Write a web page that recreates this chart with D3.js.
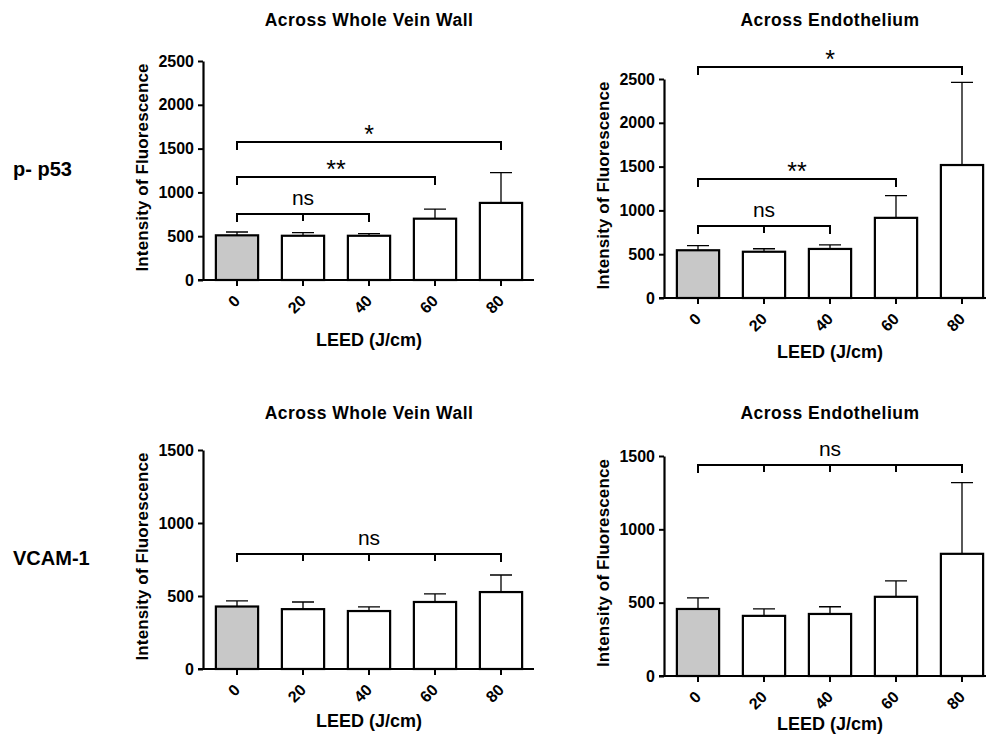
<!DOCTYPE html>
<html>
<head>
<meta charset="utf-8">
<script src="https://cdn.jsdelivr.net/npm/d3@7"></script>
<style>
  body { margin: 0; background: #fff; }
  text { font-family: "Liberation Sans", Arial, sans-serif; }
</style>
</head>
<body>
<div id="chart"></div>
<script>
// data
const doses = ["0", "20", "40", "60", "80"];

const p53WallMean = [510, 505, 505, 700, 880];
const p53WallErr  = [548, 540, 530, 810, 1225];
const p53EndoMean = [545, 528, 560, 915, 1518];
const p53EndoErr  = [597, 562, 607, 1168, 2462];
const vcamWallMean = [428, 410, 397, 459, 527];
const vcamWallErr  = [466, 459, 426, 514, 644];
const vcamEndoMean = [457, 410, 423, 540, 833];
const vcamEndoErr  = [533, 457, 472, 649, 1318];

const p53Ticks = [0, 500, 1000, 1500, 2000, 2500];
const vcamTicks = [0, 500, 1000, 1500];

// significance brackets: [from, to, level, label]
const p53WallSig = [["0", "40", 753, "ns"], ["0", "60", 1176, "**"], ["0", "80", 1575, "*"]];
const p53EndoSig = [["0", "40", 822, "ns"], ["0", "60", 1358, "**"], ["0", "80", 2637, "*"]];
const vcamWallSig = [["0", "80", 788, "ns"]];
const vcamEndoSig = [["0", "80", 1439, "ns"]];

const svg = d3.select("#chart").append("svg")
    .attr("width", 986)
    .attr("height", 735);

function drawPanel(p) {
    const g = svg.append("g");

    const y = d3.scaleLinear()
        .domain([0, d3.max(p.ticks)])
        .range([p.y0, p.yTop]);

    const x = d3.scaleBand()
        .domain(doses)
        .range([p.ax + 1, p.ax + 331])
        .paddingInner(0.36)
        .paddingOuter(0.18);

    const bars = doses.map((d, i) => ({ dose: d, mean: p.mean[i], err: p.err[i] }));

    // error bars (upper only)
    g.selectAll(".err").data(bars).enter().append("path")
        .attr("fill", "none")
        .attr("stroke", "#000")
        .attr("stroke-width", 1.3)
        .attr("d", d => {
            const cx = x(d.dose) + x.bandwidth() / 2;
            return `M${cx},${y(d.mean)}V${y(d.err)}M${cx - 11},${y(d.err)}H${cx + 11}`;
        });

    g.selectAll(".bar").data(bars).enter().append("rect")
        .attr("x", d => x(d.dose))
        .attr("y", d => y(d.mean))
        .attr("width", x.bandwidth())
        .attr("height", d => y(0) - y(d.mean))
        .attr("fill", (d, i) => i === 0 ? "#c8c8c8" : "#fff")
        .attr("stroke", "#000")
        .attr("stroke-width", 2.2);

    // y axis
    const yAxis = g.append("g")
        .attr("transform", `translate(${p.ax},0)`)
        .call(d3.axisLeft(y).tickValues(p.ticks).tickFormat(d3.format("d"))
            .tickSize(5).tickSizeOuter(0).tickPadding(4));
    yAxis.select(".domain").attr("stroke-width", 2.2);
    yAxis.selectAll(".tick line").attr("stroke-width", 2);
    yAxis.selectAll(".tick text")
        .style("font-size", "16px")
        .style("font-weight", "bold")
        .attr("fill", "#000");

    // x axis
    const xAxis = g.append("g")
        .attr("transform", `translate(0,${p.y0})`)
        .call(d3.axisBottom(x).tickSize(6).tickSizeOuter(0));
    xAxis.select(".domain").remove();
    xAxis.append("line")
        .attr("x1", p.ax - 5).attr("x2", p.ax + 331)
        .attr("stroke", "#000").attr("stroke-width", 2.2);
    xAxis.selectAll(".tick line").attr("stroke-width", 2);
    xAxis.selectAll(".tick text")
        .style("font-size", "16px")
        .style("font-weight", "bold")
        .attr("fill", "#000")
        .attr("text-anchor", "end")
        .attr("y", 0)
        .attr("dy", null)
        .attr("transform", "translate(4,22) rotate(-45)");

    // significance brackets
    p.sig.forEach(s => {
        const i0 = doses.indexOf(s[0]), i1 = doses.indexOf(s[1]);
        const ly = y(s[2]);
        const cx = d => x(d) + x.bandwidth() / 2;
        const x0 = cx(s[0]), x1 = cx(s[1]);
        let path = `M${x0},${ly + 8}V${ly}H${x1}V${ly + 8}`;
        if (s[3] === "ns") {
            doses.slice(i0 + 1, i1).forEach(d => { path += `M${cx(d)},${ly}V${ly + 7}`; });
        }
        g.append("path")
            .attr("d", path)
            .attr("fill", "none")
            .attr("stroke", "#000")
            .attr("stroke-width", 2);
        g.append("text")
            .attr("x", (x0 + x1) / 2)
            .attr("y", s[3] === "ns" ? ly - 9 : ly + 1)
            .attr("text-anchor", "middle")
            .style("font-size", s[3] === "ns" ? "21px" : "25px")
            .text(s[3]);
    });

    // titles
    g.append("text")
        .attr("x", p.ax + 166)
        .attr("y", p.titleY)
        .attr("text-anchor", "middle")
        .style("font-size", "17.5px")
        .style("font-weight", "bold")
        .style("letter-spacing", "0.5px")
        .text(p.title);

    g.append("text")
        .attr("transform", `translate(${p.ax - 55},${(p.y0 + p.yTop) / 2 - 3}) rotate(-90)`)
        .attr("text-anchor", "middle")
        .attr("textLength", 208)
        .attr("lengthAdjust", "spacing")
        .style("font-size", "17px")
        .style("font-weight", "bold")
        .text("Intensity of Fluorescence");

    g.append("text")
        .attr("x", p.ax + 166)
        .attr("y", p.xLabelY)
        .attr("text-anchor", "middle")
        .style("font-size", "18px")
        .style("font-weight", "bold")
        .text("LEED (J/cm)");
}

drawPanel({ ax: 203, y0: 280, yTop: 61, ticks: p53Ticks, mean: p53WallMean, err: p53WallErr,
            sig: p53WallSig, title: "Across Whole Vein Wall", titleY: 26, xLabelY: 346 });
drawPanel({ ax: 664, y0: 298, yTop: 79, ticks: p53Ticks, mean: p53EndoMean, err: p53EndoErr,
            sig: p53EndoSig, title: "Across Endothelium", titleY: 26, xLabelY: 358 });
drawPanel({ ax: 203, y0: 669, yTop: 450, ticks: vcamTicks, mean: vcamWallMean, err: vcamWallErr,
            sig: vcamWallSig, title: "Across Whole Vein Wall", titleY: 419, xLabelY: 727 });
drawPanel({ ax: 664, y0: 676, yTop: 456, ticks: vcamTicks, mean: vcamEndoMean, err: vcamEndoErr,
            sig: vcamEndoSig, title: "Across Endothelium", titleY: 419, xLabelY: 730 });

// row labels
svg.append("text").attr("x", 13).attr("y", 176)
    .style("font-size", "20px").style("font-weight", "bold").text("p- p53");
svg.append("text").attr("x", 13).attr("y", 565)
    .style("font-size", "20px").style("font-weight", "bold").text("VCAM-1");
</script>
</body>
</html>
